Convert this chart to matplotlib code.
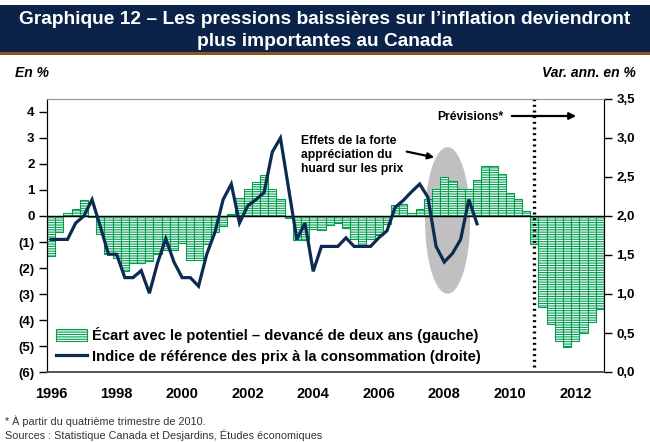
import numpy as np
import matplotlib
matplotlib.use("Agg")
import matplotlib.pyplot as plt
from matplotlib.patches import Ellipse, Rectangle, Patch
from matplotlib.lines import Line2D

# ---------------- data ----------------
years = list(range(1996, 2013))
quarters = [f"{y}T{q}" for y in years for q in range(1, 5)]  # 1996T1 .. 2012T4

# Écart avec le potentiel – devancé de deux ans (gauche), %
output_gap = [
    -1.54, -0.60, 0.13, 0.28,      # 1996
    0.60, -0.05, -0.68, -1.48,     # 1997
    -1.63, -2.10, -1.80, -1.80,    # 1998
    -1.74, -1.48, -1.29, -1.29,    # 1999
    -1.03, -1.68, -1.68, -1.08,    # 2000
    -0.62, -0.39, 0.09, 0.71,      # 2001
    1.03, 1.31, 1.57, 1.03,        # 2002
    0.64, -0.09, -0.91, -0.91,     # 2003
    -0.50, -0.54, -0.33, -0.27,    # 2004
    -0.45, -0.90, -1.12, -0.90,    # 2005
    -0.72, -0.30, 0.42, 0.45,      # 2006
    0.12, 0.28, 0.65, 1.03,        # 2007
    1.50, 1.34, 1.03, 1.03,        # 2008
    1.40, 1.94, 1.94, 1.61,        # 2009
    0.90, 0.64, 0.20, -1.09,       # 2010
    -3.50, -4.14, -4.80, -5.02,    # 2011
    -4.80, -4.50, -4.09, -3.57,    # 2012
]

# Indice de référence des prix à la consommation (droite), var. ann. %
core_cpi = [
    1.70, 1.70, 1.70, 1.91,        # 1996
    2.00, 2.21, 1.87, 1.51,        # 1997
    1.51, 1.21, 1.21, 1.30,        # 1998
    1.01, 1.40, 1.71, 1.41,        # 1999
    1.21, 1.21, 1.10, 1.51,        # 2000
    1.79, 2.21, 2.41, 1.91,        # 2001
    2.13, 2.21, 2.30, 2.82,        # 2002
    3.00, 2.35, 1.70, 1.91,        # 2003
    1.29, 1.61, 1.61, 1.61,        # 2004
    1.72, 1.61, 1.61, 1.61,        # 2005
    1.72, 1.81, 2.11, 2.20,        # 2006
    2.31, 2.41, 2.24, 1.61,        # 2007
    1.41, 1.52, 1.70, 2.21,        # 2008
    1.90,                          # 2009T1
]

year_labels = [str(y) for y in range(1996, 2013, 2)]
left_ticks = [-6, -5, -4, -3, -2, -1, 0, 1, 2, 3, 4]
right_ticks = [0.0, 0.5, 1.0, 1.5, 2.0, 2.5, 3.0, 3.5]

# ---------------- style ----------------
GREEN = "#009e4f"
NAVY_LINE = "#0c2a52"
BAND = "#0b2249"
FONT = "Liberation Sans"

plt.rcParams["font.family"] = [FONT, "DejaVu Sans"]
plt.rcParams["hatch.color"] = GREEN
plt.rcParams["hatch.linewidth"] = 0.8

W, H = 650, 442
fig = plt.figure(figsize=(W / 100, H / 100), dpi=100)


def fp(x, y):
    return (x / W, 1 - y / H)


# title band
fig.patches.append(Rectangle(fp(0, 52), 1, 47 / H, transform=fig.transFigure,
                             facecolor=BAND, edgecolor="none", zorder=0))
fig.patches.append(Rectangle(fp(0, 55), 1, 3 / H, transform=fig.transFigure,
                             facecolor="#8a5420", edgecolor="none", zorder=0))
fig.text(*fp(325, 20), "Graphique 12 – Les pressions baissières sur l’inflation deviendront",
         ha="center", va="center", color="white", fontsize=13.8, fontweight="bold")
fig.text(*fp(325, 42), "plus importantes au Canada",
         ha="center", va="center", color="white", fontsize=13.8, fontweight="bold")

fig.text(*fp(15, 73), "En %", ha="left", va="center", fontsize=10,
         fontweight="bold", fontstyle="italic")
fig.text(*fp(636, 73), "Var. ann. en %", ha="right", va="center", fontsize=10,
         fontweight="bold", fontstyle="italic")

# axes
ax = fig.add_axes([47 / W, 1 - 372 / H, 557 / W, 273 / H])
ax2 = ax.twinx()

n = len(quarters)
x = np.arange(n)

ell = Ellipse((48.9, -0.17), 5.5, 5.64, facecolor="#c0c0c0", edgecolor="none", zorder=1)
ax.add_patch(ell)

ax.bar(x, output_gap, width=1.0, align="edge", facecolor="white",
       edgecolor=GREEN, linewidth=0.8, hatch="-------", zorder=2)
ax.axhline(0, color="black", lw=1.0, zorder=3)
ax.axvline(59.5, ymin=0.02, ymax=1.0, color="black", lw=2.4,
           linestyle=(0, (0.6, 1.1)), zorder=4)

ax.set_xlim(0, n)
ax.set_ylim(-6, 4.5)
ax2.set_ylim(0, 3.5)

xc = np.arange(len(core_cpi)) + 0.5
ax2.plot(xc, core_cpi, color=NAVY_LINE, lw=2.3, zorder=5, solid_joinstyle="miter")

# ticks
ax.set_yticks(left_ticks)
ax.set_yticklabels([f"({-v})" if v < 0 else str(v) for v in left_ticks])
ax2.set_yticks(right_ticks)
ax2.set_yticklabels([f"{v:.1f}".replace(".", ",") for v in right_ticks])
ax.set_xticks([0.5 + 8 * i for i in range(len(year_labels))])
ax.set_xticklabels(year_labels)

for a in (ax, ax2):
    a.tick_params(axis="y", length=6, width=1, direction="out", labelsize=9.5, pad=3)
ax.tick_params(axis="x", length=0, labelsize=10.5, pad=11)
for lab in ax.get_yticklabels() + ax2.get_yticklabels() + ax.get_xticklabels():
    lab.set_fontweight("bold")

for a in (ax, ax2):
    a.spines["top"].set_color("#9a9a9a")
    a.spines["bottom"].set_color("#555555")
    a.spines["left"].set_color("black")
    a.spines["right"].set_color("black")
    a.spines["bottom"].set_linewidth(1.2)

# legend
handles = [Patch(facecolor="white", edgecolor=GREEN, hatch="-------", linewidth=0.8),
           Line2D([0], [0], color=NAVY_LINE, lw=2.3)]
labels = ["Écart avec le potentiel – devancé de deux ans (gauche)",
          "Indice de référence des prix à la consommation (droite)"]
leg = ax2.legend(handles, labels, loc="lower left", bbox_to_anchor=(0.017, 0.03),
                 frameon=False, handlelength=2.1, handleheight=0.8, handletextpad=0.3,
                 labelspacing=0.45, borderpad=0, borderaxespad=0,
                 prop={"weight": "bold", "size": 10.6})

# annotations
fig.text(*fp(470, 117), "Prévisions*", ha="center", va="center",
         fontsize=8.7, fontweight="bold")
ax2.annotate("", xy=fp(579, 116), xytext=fp(509, 116),
             xycoords="figure fraction", textcoords="figure fraction",
             arrowprops=dict(arrowstyle="-|>", color="black", lw=1.6, mutation_scale=10))
fig.text(*fp(301, 155), "Effets de la forte\nappréciation du\nhuard sur les prix",
         ha="left", va="center", fontsize=8.7, fontweight="bold", linespacing=1.2)
ax2.annotate("", xy=fp(437, 158), xytext=fp(404, 151),
             xycoords="figure fraction", textcoords="figure fraction",
             arrowprops=dict(arrowstyle="-|>", color="black", lw=1.6, mutation_scale=9))

# footnotes
fig.text(*fp(5, 421), "* À partir du quatrième trimestre de 2010.", ha="left",
         va="center", fontsize=7.8, color="#333333")
fig.text(*fp(5, 435), "Sources : Statistique Canada et Desjardins, Études économiques",
         ha="left", va="center", fontsize=7.8, color="#333333")

fig.savefig("out.png", dpi=100)
